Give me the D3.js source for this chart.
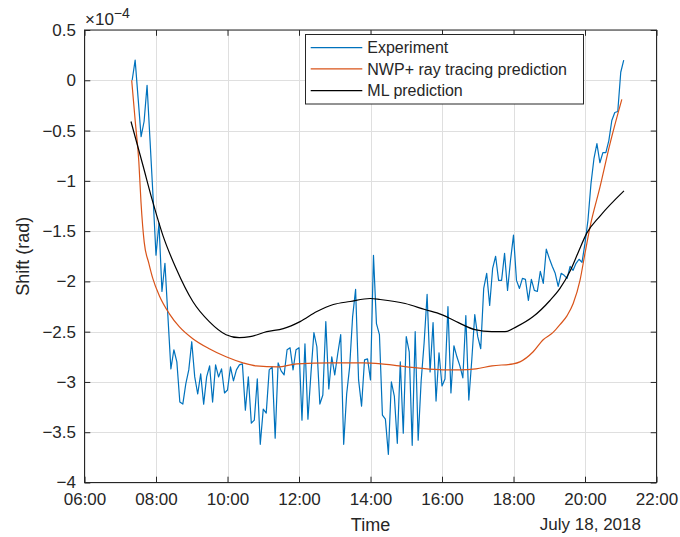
<!DOCTYPE html>
<html>
<head>
<meta charset="utf-8">
<script src="https://cdn.jsdelivr.net/npm/d3@7"></script>
<style>
html,body{margin:0;padding:0;background:#fff;}
svg{display:block;}
text{font-family:"Liberation Sans",Arial,Helvetica,sans-serif;fill:#262626;}
</style>
</head>
<body>
<svg id="chart" width="680" height="537"></svg>
<script>
// ---- Data (values in units of 1e-4 rad) ----
const expStart = "07:20";      // first sample
const expStepMinutes = 5;      // sampling interval
const experimentValues = [
  0, 0.2, -0.18, -0.56, -0.41, -0.05, -0.6, -1.15, -1.74, -1.42,
  -2.10, -1.82, -2.35, -2.87, -2.68, -2.80, -3.20, -3.22, -3.02, -2.88,
  -2.60, -2.95, -3.12, -2.92, -3.22, -2.95, -2.84, -3.20, -2.83, -2.95,
  -2.87, -3.11, -3.08, -2.85, -2.99, -2.88, -2.83, -2.82, -3.28, -2.95,
  -3.41, -3.38, -2.97, -3.62, -3.27, -3.31, -2.88, -2.85, -3.56, -2.81,
  -2.89, -2.93, -2.68, -2.66, -2.88, -2.68, -2.66, -3.38, -2.62, -3.37,
  -2.92, -2.51, -2.65, -3.22, -3.13, -2.40, -3.07, -2.75, -2.93, -2.72,
  -2.53, -3.62, -3.12, -2.85, -2.35, -2.08, -2.98, -3.24, -2.78, -2.77,
  -2.98, -1.74, -2.42, -2.53, -3.33, -3.37, -3.72, -3.00, -3.14, -3.61,
  -2.80, -3.51, -2.55, -2.70, -3.63, -2.50, -3.58, -2.99, -2.61, -2.13,
  -2.90, -2.41, -3.19, -2.71, -3.04, -2.97, -2.25, -3.11, -2.64, -2.75,
  -2.84, -2.96, -2.34, -3.18, -2.78, -2.33, -2.55, -2.67, -2.07, -1.92,
  -2.24, -1.87, -1.75, -1.99, -1.99, -1.72, -2.09, -1.79, -1.54, -1.99,
  -2.07, -1.97, -1.98, -2.19, -1.98, -2.09, -2.10, -1.90, -2.02, -1.68,
  -1.77, -1.85, -1.92, -2.05, -1.92, -1.94, -1.97, -1.85, -1.89, -1.82,
  -1.78, -1.81, -1.62, -1.39, -1.03, -0.78, -0.63, -0.82, -0.72, -0.72,
  -0.60, -0.40, -0.32, -0.31, 0.08, 0.20
];

// NWP + ray tracing prediction (hour of day, value)
const nwpHours = [7.32, 7.42, 7.52, 7.58, 7.67, 7.80, 7.91, 8.09, 8.37, 8.65,
  9.03, 9.49, 9.96, 10.43, 10.80, 11.40, 11.94, 12.87, 13.79, 14.30,
  14.80, 15.30, 16.03, 16.50, 16.95, 17.40, 17.99, 18.18, 18.55, 18.83,
  19.10, 19.30, 19.50, 19.67, 19.86, 20.00, 20.14, 20.42, 20.70, 21.03];
const nwpValues = [0.00, -0.41, -0.81, -1.21, -1.61, -1.82, -1.97, -2.14, -2.32, -2.45,
  -2.57, -2.67, -2.75, -2.81, -2.84, -2.85, -2.82, -2.81, -2.81, -2.82,
  -2.84, -2.86, -2.88, -2.88, -2.87, -2.84, -2.82, -2.80, -2.70, -2.58,
  -2.51, -2.43, -2.34, -2.22, -1.99, -1.72, -1.46, -1.06, -0.63, -0.19];

// ML prediction (hour of day, value)
const mlHours = [7.30, 7.63, 7.91, 8.19, 8.56, 9.03, 9.49, 9.96, 10.33, 10.63,
  11.10, 11.56, 12.03, 12.50, 12.96, 13.43, 13.99, 14.27, 14.97, 15.52,
  15.99, 16.46, 16.92, 17.39, 17.76, 18.09, 18.55, 19.02, 19.30, 19.58,
  19.80, 20.05, 20.42, 21.09];
const mlValues = [-0.41, -0.84, -1.21, -1.54, -1.87, -2.20, -2.40, -2.53, -2.56, -2.55,
  -2.50, -2.47, -2.40, -2.30, -2.23, -2.20, -2.17, -2.18, -2.22, -2.28,
  -2.33, -2.41, -2.48, -2.50, -2.50, -2.45, -2.35, -2.19, -2.07, -1.90,
  -1.72, -1.52, -1.35, -1.10];

const yTicks = [-4, -3.5, -3, -2.5, -2, -1.5, -1, -0.5, 0, 0.5];
const xTickHours = [6, 8, 10, 12, 14, 16, 18, 20, 22];
const seriesNames = ["Experiment", "NWP+ ray tracing prediction", "ML prediction"];
const seriesColors = ["#0072BD", "#D95319", "#000000"];

// ---- Helpers ----
const day = new Date(2018, 6, 18, 0, 0, 0);
const hourToDate = h => new Date(day.getTime() + h * 3600e3);
const [sh, sm] = expStart.split(":").map(Number);
const expDates = experimentValues.map((v, i) => new Date(day.getTime() + ((sh * 60 + sm) + i * expStepMinutes) * 60e3));

const svg = d3.select("#chart");
const L = 84.5, R = 656.5, T = 30, B = 482.5;

const x = d3.scaleTime().domain([hourToDate(6), hourToDate(22)]).range([L, R]);
const y = d3.scaleLinear().domain([-4, 0.5]).range([B, T]);
const xTicks = xTickHours.map(hourToDate);
const axisColor = "#262626";
const tickLen = 5.8;

// grid
const grid = svg.append("g");
grid.selectAll("line.gx").data(xTicks).enter().append("line")
  .attr("x1", d => Math.round(x(d)) + 0.5).attr("x2", d => Math.round(x(d)) + 0.5)
  .attr("y1", T).attr("y2", B).attr("stroke", "#dfdfdf").attr("stroke-width", 1);
grid.selectAll("line.gy").data(yTicks).enter().append("line")
  .attr("y1", d => Math.round(y(d)) + 0.5).attr("y2", d => Math.round(y(d)) + 0.5)
  .attr("x1", L).attr("x2", R).attr("stroke", "#dfdfdf").attr("stroke-width", 1);

// data lines
const lineExp = d3.line().x((d, i) => x(expDates[i])).y(d => y(d));
svg.append("path").datum(experimentValues)
  .attr("d", lineExp).attr("fill", "none")
  .attr("stroke", seriesColors[0]).attr("stroke-width", 1.2).attr("stroke-linejoin", "round");

const lineSmooth = hours => d3.line().curve(d3.curveMonotoneX)
  .x((d, i) => x(hourToDate(hours[i]))).y(d => y(d));
svg.append("path").datum(nwpValues)
  .attr("d", lineSmooth(nwpHours)).attr("fill", "none")
  .attr("stroke", seriesColors[1]).attr("stroke-width", 1.2);
svg.append("path").datum(mlValues)
  .attr("d", lineSmooth(mlHours)).attr("fill", "none")
  .attr("stroke", seriesColors[2]).attr("stroke-width", 1.2);

// axes
const yFmt = v => Number.isInteger(v) ? d3.format("d")(v) : d3.format(".1f")(v);
const gL = svg.append("g").attr("transform", `translate(${L},0)`)
  .call(d3.axisLeft(y).tickValues(yTicks).tickFormat(yFmt).tickSize(-tickLen).tickPadding(8.5));
const gB = svg.append("g").attr("transform", `translate(0,${B})`)
  .call(d3.axisBottom(x).tickValues(xTicks).tickFormat(d3.timeFormat("%H:%M")).tickSize(-tickLen).tickPadding(10.4));
const gR = svg.append("g").attr("transform", `translate(${R},0)`)
  .call(d3.axisRight(y).tickValues(yTicks).tickFormat("").tickSize(-tickLen));
const gT = svg.append("g").attr("transform", `translate(0,${T})`)
  .call(d3.axisTop(x).tickValues(xTicks).tickFormat("").tickSize(-tickLen));
[gL, gB, gR, gT].forEach(g => {
  g.select(".domain").remove();
  g.selectAll(".tick line").attr("stroke", axisColor);
  g.selectAll("text").attr("fill", axisColor).style("font-size", "17px")
    .style("font-family", '"Liberation Sans", Arial, sans-serif');
});
svg.append("rect").attr("x", L).attr("y", T).attr("width", R - L).attr("height", B - T)
  .attr("fill", "none").attr("stroke", axisColor).attr("stroke-width", 1);

// exponent label
const ex = svg.append("text").attr("x", 85).attr("y", 25).style("font-size", "17px");
ex.append("tspan").text("\u00D710");
ex.append("tspan").attr("dy", -7).style("font-size", "14px").text("\u22124");

// axis labels
svg.append("text").attr("x", (L + R) / 2).attr("y", 531).attr("text-anchor", "middle")
  .style("font-size", "18px").text("Time");
svg.append("text").attr("x", 641).attr("y", 530).attr("text-anchor", "end")
  .style("font-size", "17px").text("July 18, 2018");
svg.append("text").attr("transform", `translate(29,${(T + B) / 2}) rotate(-90)`)
  .attr("text-anchor", "middle").style("font-size", "18px").text("Shift (rad)");

// legend
const lg = svg.append("g");
lg.append("rect").attr("x", 305.5).attr("y", 34.5).attr("width", 278).attr("height", 69.5)
  .attr("fill", "#fff").attr("stroke", axisColor).attr("stroke-width", 1);
const rowsY = [47.7, 68.8, 90.7];
seriesNames.forEach((name, i) => {
  lg.append("line").attr("x1", 310.7).attr("x2", 362.3).attr("y1", rowsY[i]).attr("y2", rowsY[i])
    .attr("stroke", seriesColors[i]).attr("stroke-width", 1.2);
  lg.append("text").attr("x", 367.3).attr("y", rowsY[i]).attr("dy", "0.36em")
    .style("font-size", "16px").text(name);
});
</script>
</body>
</html>
